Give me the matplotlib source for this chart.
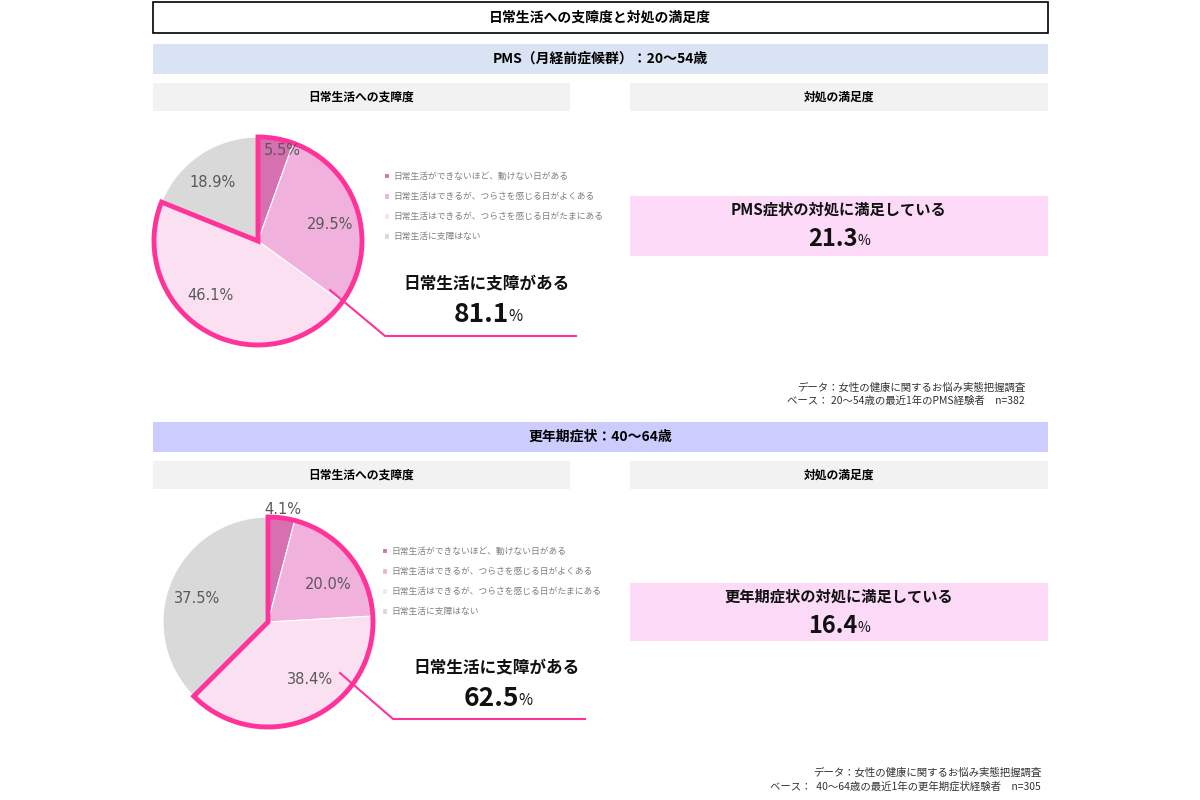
import math
import matplotlib.pyplot as plt
from matplotlib.patches import Rectangle, Wedge

plt.rcParams['font.family'] = ['Noto Sans CJK JP', 'DejaVu Sans']

# data
legend_labels = ['日常生活ができないほど、動けない日がある',
                 '日常生活はできるが、つらさを感じる日がよくある',
                 '日常生活はできるが、つらさを感じる日がたまにある',
                 '日常生活に支障はない']
slice_colors = ['#D670B1', '#F0B2DC', '#FAE0F1', '#D9D9D9']

pms_values = [5.5, 29.5, 46.1, 18.9]
meno_values = [4.1, 20.0, 38.4, 37.5]
pms_satisfied = 21.3
meno_satisfied = 16.4

main_title = '日常生活への支障度と対処の満足度'
section_titles = ['PMS（月経前症候群）：20～54歳', '更年期症状：40～64歳']
section_colors = ['#DAE3F3', '#CCCCFF']
satisfied_titles = ['PMS症状の対処に満足している', '更年期症状の対処に満足している']
footnotes = [['データ：女性の健康に関するお悩み実態把握調査',
              'ベース： 20～54歳の最近1年のPMS経験者　n=382'],
             ['データ：女性の健康に関するお悩み実態把握調査',
              'ベース：  40～64歳の最近1年の更年期症状経験者　n=305']]

W, H = 1200, 800
fig = plt.figure(figsize=(12, 8), dpi=100)
bg = fig.add_axes([0, 0, 1, 1])
bg.set_xlim(0, W)
bg.set_ylim(H, 0)
bg.axis('off')

HIGHLIGHT = '#FF3399'


def box(x0, y0, x1, y1, fc, ec='none', lw=0):
    bg.add_patch(Rectangle((x0, y0), x1 - x0, y1 - y0, fc=fc, ec=ec, lw=lw))


def pct_text(ax, x, y, value, size, small):
    t = ax.text(x, y, f'{value:.1f}', fontsize=size, fontweight='bold',
                ha='center', va='center', color='#111111')
    ax.annotate('%', xy=(1.0, 0.12), xycoords=t, fontsize=small,
                ha='left', va='bottom', color='#111111')


def draw_pie(cx, cy, r, values, label_pos):
    pad = 1.15
    ax = fig.add_axes([(cx - r * pad) / W, 1 - (cy + r * pad) / H,
                       2 * r * pad / W, 2 * r * pad / H])
    wedges, _ = ax.pie(values, colors=slice_colors, startangle=90,
                       counterclock=False, radius=1.0,
                       wedgeprops=dict(edgecolor='white', linewidth=0.8))
    affected = sum(values[:3])
    ax.add_patch(Wedge((0, 0), 1.0, 90 - affected * 3.6, 90, fill=False,
                       ec=HIGHLIGHT, lw=3.5, joinstyle='miter', zorder=5))
    for w, v, (d, shift) in zip(wedges, values, label_pos):
        mid = math.radians((w.theta1 + w.theta2) / 2 + shift)
        ax.text(d * math.cos(mid), d * math.sin(mid), f'{v:.1f}%',
                ha='center', va='center', fontsize=10.5, color='#595959',
                family='DejaVu Sans', zorder=6)
    ax.set_xlim(-pad, pad)
    ax.set_ylim(-pad, pad)
    ax.set_aspect('equal')
    ax.axis('off')
    return wedges, affected


# title
box(153, 2, 1048, 33, 'white', ec='black', lw=1.2)
bg.text(600, 17.5, main_title, ha='center', va='center', fontsize=10, fontweight='bold')

sections = [
    dict(top=44, values=pms_values, center=(258, 241), r=104,
         labels=[(0.905, -5), (0.71, -4.5), (0.70, -12), (0.71, 4)],
         legend_y=168, legend_x=380,
         call=(487, 284), line=[(330, 290), (385, 336), (576, 336)],
         sat=pms_satisfied, sat_box=(196, 256), foot_x=1025, foot_y=388),
    dict(top=422, values=meno_values, center=(268, 622), r=105,
         labels=[(1.08, 0), (0.67, -7.5), (0.68, 12), (0.71, 3.8)],
         legend_y=543, legend_x=378,
         call=(497, 668), line=[(340, 673), (393, 719), (585, 719)],
         sat=meno_satisfied, sat_box=(583, 641), foot_x=1041, foot_y=773),
]

# overlay for callout lines drawn above the pies
top = fig.add_axes([0, 0, 1, 1], zorder=5)
top.set_xlim(0, W)
top.set_ylim(H, 0)
top.axis('off')
top.patch.set_visible(False)

for i, s in enumerate(sections):
    t = s['top']
    box(153, t, 1048, t + 30, section_colors[i])
    bg.text(600, t + 15, section_titles[i], ha='center', va='center',
            fontsize=10, fontweight='bold')
    box(153, t + 39, 570, t + 67, '#F2F2F2')
    box(630, t + 39, 1048, t + 67, '#F2F2F2')
    bg.text(361, t + 53, '日常生活への支障度', ha='center', va='center',
            fontsize=8.5, fontweight='bold')
    bg.text(839, t + 53, '対処の満足度', ha='center', va='center',
            fontsize=8.5, fontweight='bold')

    cx, cy = s['center']
    wedges, affected = draw_pie(cx, cy, s['r'], s['values'], s['labels'])

    fig.legend(wedges, legend_labels, loc='upper left',
               bbox_to_anchor=(s['legend_x'] / W, 1 - s['legend_y'] / H),
               frameon=False, fontsize=6.3, labelcolor='#7F7F7F',
               handlelength=0.65, handleheight=0.65, handletextpad=0.5,
               labelspacing=1.29, borderaxespad=0)

    # callout
    xs, ys = zip(*s['line'])
    top.plot(xs, ys, color=HIGHLIGHT, lw=1.5)
    kx, ky = s['call']
    bg.text(kx, ky, '日常生活に支障がある', ha='center', va='center',
            fontsize=12, fontweight='bold', color='#111111')
    pct_text(bg, kx - 6, ky + 31, affected, 19, 11)

    # satisfaction box
    y0, y1 = s['sat_box']
    box(630, y0, 1048, y1, '#FCDAF8')
    bg.text(839, y0 + 14, satisfied_titles[i], ha='center', va='center',
            fontsize=11, fontweight='bold', color='#111111')
    pct_text(bg, 833, y0 + 43, s['sat'], 17, 10)

    # footnotes
    for j, line in enumerate(footnotes[i]):
        bg.text(s['foot_x'], s['foot_y'] + j * 13, line, ha='right', va='center',
                fontsize=7.5, color='#333333')

fig.savefig('out.png', dpi=100)
